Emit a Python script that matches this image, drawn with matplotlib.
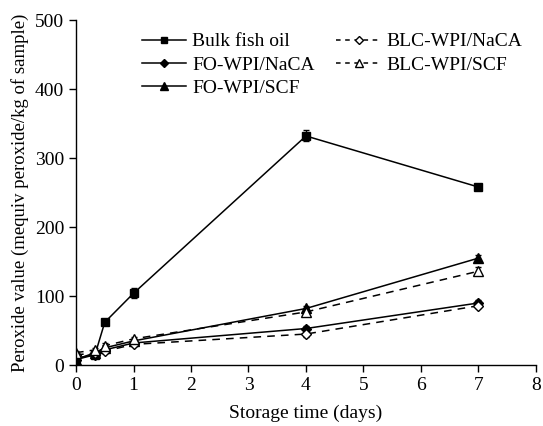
import matplotlib.pyplot as plt
from matplotlib.lines import Line2D

plt.rcParams['font.family'] = ['Liberation Serif', 'DejaVu Serif']

# storage time (days)
days = [0, 0.33, 0.5, 1, 4, 7]

bulk = [10, 15, 62, 104, 332, 258]
bulk_err = [4, 3, 3, 7, 8, 4]
fo_naca = [8, 15, 22, 32, 53, 90]
fo_naca_err = [3, 3, 3, 3, 4, 4]
fo_scf = [8, 18, 25, 35, 82, 155]
fo_scf_err = [3, 3, 4, 3, 4, 5]
blc_naca = [15, 17, 20, 30, 45, 86]
blc_naca_err = [3, 3, 3, 3, 4, 4]
blc_scf = [18, 22, 28, 38, 77, 136]
blc_scf_err = [3, 3, 4, 3, 5, 6]

series = [
    ('Bulk fish oil', bulk, bulk_err, 's', '-', 'black'),
    ('FO-WPI/NaCA', fo_naca, fo_naca_err, 'D', '-', 'black'),
    ('FO-WPI/SCF', fo_scf, fo_scf_err, '^', '-', 'black'),
    ('BLC-WPI/NaCA', blc_naca, blc_naca_err, 'D', '--', 'white'),
    ('BLC-WPI/SCF', blc_scf, blc_scf_err, '^', '--', 'white'),
]
sizes = {'s': 6, 'D': 5.5, '^': 7}

fig = plt.figure(figsize=(5.43, 4.26), dpi=100)
ax = fig.add_axes([0.14, 0.143, 0.847, 0.81])

handles = []
for label, vals, err, mk, ls, fc in series:
    ax.errorbar(days, vals, yerr=err, marker=mk, linestyle=ls, color='black',
                markerfacecolor=fc, markeredgecolor='black', markersize=sizes[mk],
                linewidth=1.1, elinewidth=1, capsize=2.5, dashes=(5, 4) if ls == '--' else (None, None))
    # legend entry without the error bar
    lh = Line2D([], [], marker=mk, linestyle=ls, color='black', markerfacecolor=fc,
                markeredgecolor='black', markersize=sizes[mk] - 1, linewidth=1.1, label=label)
    if ls == '--':
        lh.set_dashes((3, 3))
    handles.append(lh)

ax.set_xlim(0, 8)
ax.set_ylim(0, 500)
ax.set_xticks(range(0, 9))
ax.set_yticks(range(0, 501, 100))
ax.spines['top'].set_visible(False)
ax.spines['right'].set_visible(False)
ax.tick_params(direction='out', length=5, width=1, labelsize=14)
for s in ['left', 'bottom']:
    ax.spines[s].set_linewidth(1)

ax.set_xlabel('Storage time (days)', fontsize=14, labelpad=8)
ax.set_ylabel('Peroxide value (mequiv peroxide/kg of sample)', fontsize=13.5, labelpad=4)

ax.legend(handles=handles, loc='upper left', bbox_to_anchor=(0.13, 0.98), ncol=2,
          frameon=False, fontsize=14, handlelength=2.3, handletextpad=0.3,
          labelspacing=0.3, columnspacing=1.1, borderaxespad=0.1, borderpad=0.2)

fig.savefig('out.png', dpi=100)
